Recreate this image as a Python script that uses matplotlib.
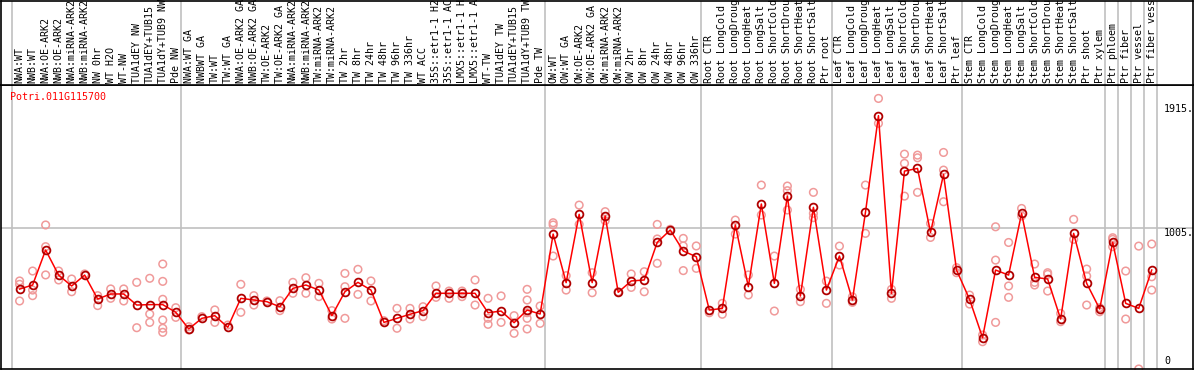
import matplotlib
matplotlib.use("Agg")
import matplotlib.pyplot as plt

gene = "Potri.011G115700"

samples = [
    "NWA:WT", "NWB:WT", "NWA:OE-ARK2", "NWB:OE-ARK2", "NWA:miRNA-ARK2",
    "NWB:miRNA-ARK2", "NW 0hr", "WT H2O", "WT-NW", "TUA1dEY NW",
    "TUA1dEY+TUB15", "TUA1dY+TUB9 NW", "Pde NW",
    "NWA:WT GA", "NWBWT GA", "TW:WT", "TW:WT GA", "NWA:OE-ARK2 GA",
    "NWB:OE-ARK2 GA", "TW:OE-ARK2", "TW:OE-ARK2 GA", "NWA:miRNA-ARK2",
    "NWB:miRNA-ARK2", "TW:miRNA-ARK2", "TW:miRNA-ARK2", "TW 2hr", "TW 8hr",
    "TW 24hr", "TW 48hr", "TW 96hr", "TW 336hr", "WT ACC", "35S::etr1-1 H2",
    "35S::etr1-1 AC", "LMX5::etr1-1 H", "LMX5::etr1-1 A", "WT-TW",
    "TUA1dEY TW", "TUA1dEY+TUB15", "TUA1dY+TUB9 TW", "Pde TW",
    "OW:WT", "OW:WT GA", "OW:OE-ARK2", "OW:OE-ARK2 GA", "OW:miRNA-ARK2",
    "OW:miRNA-ARK2", "OW 2hr", "OW 8hr", "OW 24hr", "OW 48hr", "OW 96hr",
    "OW 336hr",
    "Root CTR", "Root LongCold", "Root LongDroug", "Root LongHeat",
    "Root LongSalt", "Root ShortCold", "Root ShortDrou", "Root ShortHeat",
    "Root ShortSalt", "Ptr root",
    "Leaf CTR", "Leaf LongCold", "Leaf LongDroug", "Leaf LongHeat",
    "Leaf LongSalt", "Leaf ShortCold", "Leaf ShortDrou", "Leaf ShortHeat",
    "Leaf ShortSalt", "Ptr leaf",
    "Stem CTR", "Stem LongCold", "Stem LongDroug", "Stem LongHeat",
    "Stem LongSalt", "Stem ShortCold", "Stem ShortDrou", "Stem ShortHeat",
    "Stem ShortSalt", "Ptr shoot", "Ptr xylem",
    "Ptr phloem", "Ptr fiber", "Ptr vessel", "Ptr fiber vess",
]

# mean expression per sample
means = [
    571, 600, 850, 671, 593, 671, 500, 536, 536, 457, 460, 460, 405,
    286, 362, 381, 298, 505, 493, 481, 445, 576, 600, 564, 381, 552, 619,
    564, 333, 362, 391, 417, 541, 541, 541, 541, 402, 414, 331, 421, 393,
    964, 617, 1105, 617, 1093, 548, 629, 636, 905, 993, 843, 802,
    421, 433, 1029, 588, 1179, 612, 1236, 521, 1155, 564,
    807, 493, 1119, 1810, 540, 1414, 1433, 976, 1390, 707,
    498, 224, 707, 671, 1112, 655, 643, 357, 969, 612, 429,
    905, 469, 433, 707,
]

# individual replicates per sample
reps = [
    [629, 605, 486], [700, 564, 524], [1029, 874, 672], [700, 636],
    [643, 552], [679], [524, 453], [572, 505], [572, 486], [619, 295],
    [648, 393, 333], [750, 626, 498, 350, 291, 262], [438, 369],
    [302, 279], [374], [422, 333], [314], [605, 405], [524, 457], [486],
    [488, 417], [619, 541], [652, 541], [612, 517], [417, 357],
    [683, 588, 362], [712, 533], [629, 486], [345], [433, 291],
    [433, 357], [445, 374], [593, 512], [557, 505], [557, 517], [636, 457],
    [505, 362, 319], [522, 333], [381, 255], [569, 493, 402, 362, 286],
    [450, 326],
    [1045, 1029, 807], [667, 564], [1171, 1033], [688, 545], [1124, 1060],
    [552], [679, 583], [695, 552], [1033, 929, 755], [998],
    [933, 879, 703], [879, 719],
    [402], [469, 391], [1064, 964], [672, 529], [1314, 1100], [807, 414],
    [1307, 1274, 1136], [569, 481], [1262, 1112, 1081], [628, 469],
    [878, 743], [516, 476], [1314, 969], [1933, 1755], [569, 505],
    [1535, 1469, 1235], [1528, 1509, 1262], [1040, 940],
    [1547, 1421, 1195], [724, 688],
    [528, 464], [243, 195], [1016, 778, 333], [904, 593, 512],
    [1147, 1093], [750, 619, 600], [688, 676, 557], [397, 338],
    [1069, 926], [714, 664, 457], [438, 409],
    [938, 926, 874], [700, 357], [878, 0], [893, 659, 564],
]

group_starts = [0, 13, 41, 53, 63, 73, 84, 85, 86, 87, 88]
yticks = [0, 1005, 1915]
ymax = 2029

mono = "DejaVu Sans Mono"
fs = 7.2
grid_c = "#c0c0c0"

fig = plt.figure(figsize=(11.94, 3.70), dpi=100)
W, H = 1194.0, 370.0
ax = fig.add_axes([1 / W, 1 / H, 1192 / W, 284 / H])
axl = fig.add_axes([1 / W, 285 / H, 1192 / W, 84.5 / H])

x = list(range(len(samples)))
xlim = ((0 - 18.6) / 13.013, (1192 - 18.6) / 13.013)

for a in (ax, axl):
    a.set_xlim(*xlim)
    a.set_xticks([])
    a.set_yticks([])
    for s in a.spines.values():
        s.set_color("black")
        s.set_linewidth(1.2)
    for g in group_starts:
        a.axvline(g - 0.6, color=grid_c, lw=1.2, zorder=0)

ax.set_ylim(0, ymax)
ax.axhline(1005, color=grid_c, lw=1.2, zorder=0)

# replicates
rx, ry = [], []
for i, r in enumerate(reps):
    rx += [i] * len(r)
    ry += r
ax.scatter(rx, ry, s=30, facecolors="none", edgecolors="#f09a9a",
           linewidths=1.1, zorder=2, clip_on=False)

ax.plot(x, means, color="red", lw=1.1, zorder=3)
ax.plot(x, means, ls="none", marker="o", ms=5.6, mfc="none",
        mec="#b00000", mew=1.3, zorder=4)

# value labels on the right
for v in yticks:
    txt = "0" if v == 0 else "%d." % v
    if v == 0:
        ax.annotate(txt, (87.95, v), xytext=(0, 3), textcoords="offset pixels",
                    ha="left", va="bottom", fontsize=fs, family=mono)
    elif v == 1005:
        ax.annotate(txt, (87.95, v), xytext=(0, 0), textcoords="offset pixels",
                    ha="left", va="top", fontsize=fs, family=mono)
    else:
        ax.annotate(txt, (87.95, v), xytext=(0, -3), textcoords="offset pixels",
                    ha="left", va="top", fontsize=fs, family=mono)

ax.text(9.3 / 1192, 1 - 11.7 / 284, gene, transform=ax.transAxes,
        color="red", ha="left", va="center", fontsize=fs, family=mono)

axl.set_ylim(0, 1)
for i, lab in enumerate(samples):
    axl.text(i, 2 / 84.5, lab, rotation=90, ha="center", va="bottom",
             fontsize=fs, family=mono, rotation_mode="default")

fig.savefig("out.png", dpi=100)
